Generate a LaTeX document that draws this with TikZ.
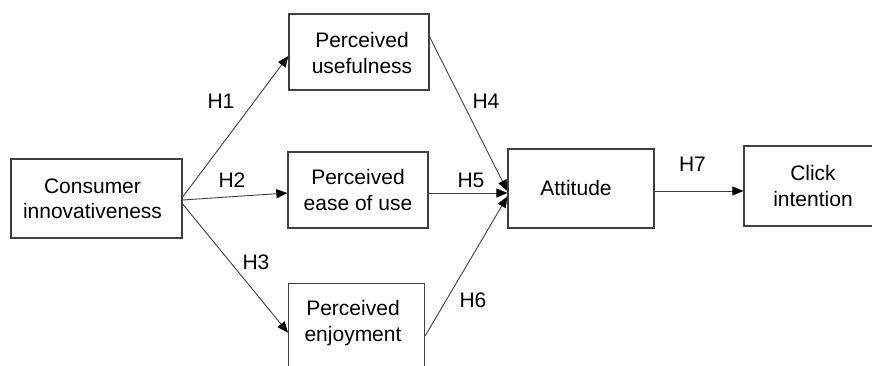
\documentclass[tikz,border=0pt]{standalone}
\usepackage{fontspec}
\setmainfont{Liberation Sans}
\usetikzlibrary{arrows.meta}
\begin{document}
\begin{tikzpicture}[x=1pt,y=-1pt,
  box/.style={draw=black!75, line width=1.3pt, rectangle, inner sep=0pt, align=center, font=\fontsize{21}{25.5}\selectfont},
  txt/.style={inner sep=0pt, align=center, font=\fontsize{21}{25.5}\selectfont},
  conn/.style={draw=black!75, line width=0.9pt, -{Triangle[length=11pt,width=9pt,color=black]}},
  lbl/.style={font=\fontsize{21}{25.5}\selectfont, inner sep=0pt}]
\useasboundingbox (0,0) rectangle (872,365);
\clip (0,0) rectangle (872,365);
\node[box, minimum width=171pt, minimum height=79pt] (ci) at (96.5,198.5) {};
\node[txt] (cit) at (92.5,199) {Consumer\\innovativeness};
\node[box, minimum width=140pt, minimum height=76pt] (pu) at (359,52) {};
\node[txt] (put) at (362,53) {Perceived\\usefulness};
\node[box, minimum width=140pt, minimum height=76pt] (peou) at (358,190) {Perceived\\ease of use};
\node[box, minimum width=136pt, minimum height=110pt, anchor=north west] (enj) at (288,283) {};
\node[txt] (enjt) at (353,323) {Perceived\\enjoyment};
\node[box, minimum width=146pt, minimum height=79pt] (att) at (581,188.5) {};
\node[txt] (attt) at (576,187.5) {Attitude};
\node[box, minimum width=138pt, minimum height=80pt] (click) at (813,186) {Click\\intention};

\draw[conn] ([yshift=1.5pt]ci.east) -- ([yshift=-4pt]pu.west);
\draw[conn] ([yshift=-1.5pt]ci.east) -- ([yshift=-3pt]peou.west);
\draw[conn] ([yshift=-5.5pt]ci.east) -- ([yshift=6pt]enj.west);
\draw[conn] ([yshift=15pt]pu.east) -- ([yshift=-2.5pt]att.west);
\draw[conn] ([yshift=-3pt]peou.east) -- ([yshift=-4.5pt]att.west);
\draw[conn] ([yshift=3pt]enj.east) -- ([yshift=-8pt]att.west);
\draw[conn] ([yshift=-2.5pt]att.east) -- ([yshift=-5pt]click.west);

\node[lbl] (h1) at (221,101) {H1};
\node[lbl] (h2) at (232,180) {H2};
\node[lbl] (h3) at (256,262) {H3};
\node[lbl] (h4) at (486,101) {H4};
\node[lbl] (h5) at (471,180) {H5};
\node[lbl] (h6) at (473,300) {H6};
\node[lbl] (h7) at (692.5,164) {H7};
\end{tikzpicture}
\end{document}
